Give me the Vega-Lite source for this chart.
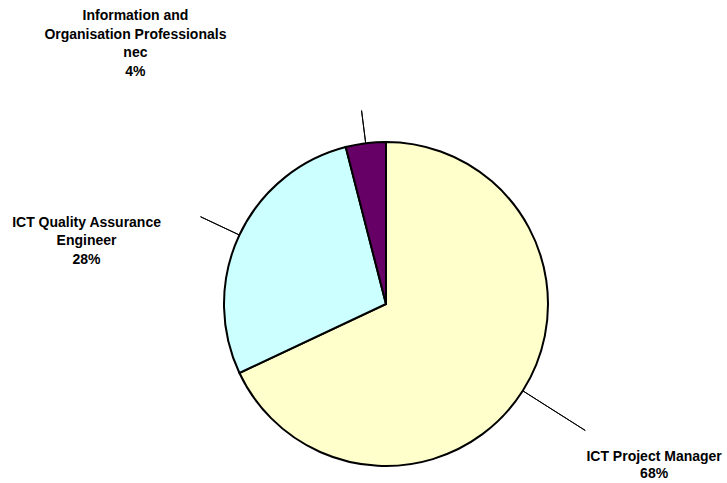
{
  "$schema": "https://vega.github.io/schema/vega-lite/v6.json",
  "width": 600,
  "height": 300,
  "autosize": {"type": "none"},
  "padding": {"left": 86, "top": 154, "right": 41, "bottom": 29},
  "background": "white",
  "config": {"view": {"stroke": null}},
  "data": {
    "values": [
      {"occupation": "ICT Project Manager", "share": 68, "label": "ICT Project Manager\n68%"},
      {"occupation": "ICT Quality Assurance Engineer", "share": 28, "label": "ICT Quality Assurance\nEngineer\n28%"},
      {"occupation": "Information and Organisation Professionals nec", "share": 4, "label": "Information and\nOrganisation Professionals\nnec\n4%"}
    ]
  },
  "layer": [
    {
      "mark": {"type": "arc", "outerRadius": 162, "stroke": "black", "strokeWidth": 2},
      "encoding": {
        "theta": {"field": "share", "type": "quantitative", "stack": true},
        "order": {"field": "share", "sort": "descending"},
        "color": {
          "field": "occupation",
          "type": "nominal",
          "scale": {
            "domain": ["ICT Project Manager", "ICT Quality Assurance Engineer", "Information and Organisation Professionals nec"],
            "range": ["#FFFFCC", "#CCFFFF", "#660066"]
          },
          "legend": null
        }
      }
    },
    {
      "transform": [
        {"fold": ["share", "share"], "as": ["k", "v"]},
        {"window": [{"op": "row_number", "as": "rn"}], "groupby": ["occupation"]},
        {"stack": "v", "groupby": [], "sort": [{"field": "v", "order": "descending"}, {"field": "rn", "order": "ascending"}], "as": ["s0", "s1"]},
        {"filter": "datum.rn === 1"}
      ],
      "encoding": {
        "theta": {"field": "s1", "type": "quantitative", "stack": null, "scale": {"domain": [0, 200]}}
      },
      "layer": [
        {
          "transform": [{"filter": {"field": "occupation", "equal": "ICT Project Manager"}}],
          "mark": {"type": "arc", "innerRadius": 162, "outerRadius": 236, "stroke": "black", "strokeWidth": 1, "fillOpacity": 0},
          "encoding": {"theta2": {"field": "s1"}}
        },
        {
          "transform": [{"filter": {"field": "occupation", "equal": "ICT Quality Assurance Engineer"}}],
          "mark": {"type": "arc", "innerRadius": 162, "outerRadius": 205, "stroke": "black", "strokeWidth": 1, "fillOpacity": 0},
          "encoding": {"theta2": {"field": "s1"}}
        },
        {
          "transform": [{"filter": {"field": "occupation", "equal": "Information and Organisation Professionals nec"}}],
          "mark": {"type": "arc", "innerRadius": 162, "outerRadius": 195, "stroke": "black", "strokeWidth": 1, "fillOpacity": 0},
          "encoding": {"theta2": {"field": "s1"}}
        },
        {
          "transform": [{"filter": {"field": "occupation", "equal": "ICT Project Manager"}}],
          "mark": {"type": "text", "radius": 314, "dx": 3, "dy": -15.5, "font": "Liberation Sans", "fontSize": 14, "fontWeight": "bold", "lineBreak": "\n", "lineHeight": 17.5, "align": "center", "baseline": "middle", "color": "black"},
          "encoding": {"text": {"field": "label"}}
        },
        {
          "transform": [{"filter": {"field": "occupation", "equal": "ICT Quality Assurance Engineer"}}],
          "mark": {"type": "text", "radius": 300, "dx": -28, "dy": 46.5, "font": "Liberation Sans", "fontSize": 14, "fontWeight": "bold", "lineBreak": "\n", "lineHeight": 18.5, "align": "center", "baseline": "middle", "color": "black"},
          "encoding": {"text": {"field": "label"}}
        },
        {
          "transform": [{"filter": {"field": "occupation", "equal": "Information and Organisation Professionals nec"}}],
          "mark": {"type": "text", "radius": 260, "dx": -218, "dy": -29.75, "font": "Liberation Sans", "fontSize": 14, "fontWeight": "bold", "lineBreak": "\n", "lineHeight": 18.5, "align": "center", "baseline": "middle", "color": "black"},
          "encoding": {"text": {"field": "label"}}
        }
      ]
    }
  ],
  "resolve": {"scale": {"theta": "independent"}}
}
